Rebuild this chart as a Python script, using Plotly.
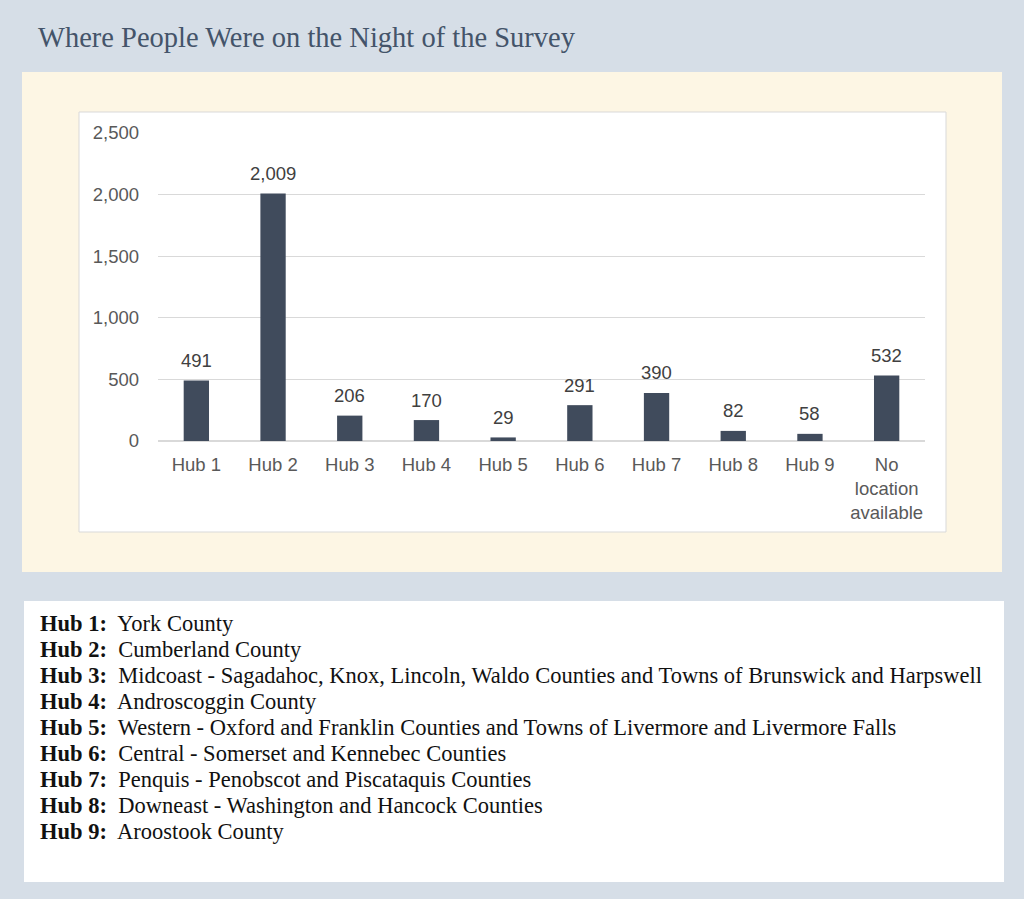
import plotly.graph_objects as go

categories = ["Hub 1", "Hub 2", "Hub 3", "Hub 4", "Hub 5", "Hub 6", "Hub 7", "Hub 8", "Hub 9", "No<br>location<br>available"]
values = [491, 2009, 206, 170, 29, 291, 390, 82, 58, 532]
y_ticks = [0, 500, 1000, 1500, 2000, 2500]
y_tick_labels = ["0", "500", "1,000", "1,500", "2,000", "2,500"]

hub_names = ["Hub 1:", "Hub 2:", "Hub 3:", "Hub 4:", "Hub 5:", "Hub 6:", "Hub 7:", "Hub 8:", "Hub 9:"]
hub_descriptions = [
    "York County",
    "Cumberland County",
    "Midcoast - Sagadahoc, Knox, Lincoln, Waldo Counties and Towns of Brunswick and Harpswell",
    "Androscoggin County",
    "Western - Oxford and Franklin Counties and Towns of Livermore and Livermore Falls",
    "Central - Somerset and Kennebec Counties",
    "Penquis - Penobscot and Piscataquis Counties",
    "Downeast - Washington and Hancock Counties",
    "Aroostook County",
]

W, H = 1024, 899
SANS = "Liberation Sans, Arial"
SERIF = "Liberation Serif, Times New Roman"

def px(x):
    return x / W

def py(y):
    return 1 - y / H

fig = go.Figure()
fig.add_trace(go.Bar(
    x=categories, y=values,
    marker=dict(color="#404B5C", line=dict(width=0)),
    width=0.33,
    hoverinfo="x+y",
))

shapes = [
    dict(type="rect", xref="paper", yref="paper", x0=px(22), x1=px(1002), y0=py(572), y1=py(72),
         fillcolor="#FDF6E4", line=dict(width=0), layer="below"),
    dict(type="rect", xref="paper", yref="paper", x0=px(79), x1=px(946), y0=py(532), y1=py(112),
         fillcolor="#FFFFFF", line=dict(width=1, color="#D9D9D9"), layer="below"),
    dict(type="rect", xref="paper", yref="paper", x0=px(24), x1=px(1004), y0=py(882), y1=py(601),
         fillcolor="#FFFFFF", line=dict(width=0), layer="below"),
]

annotations = [
    dict(text="Where People Were on the Night of the Survey", xref="paper", yref="paper",
         x=px(36), y=py(38), xanchor="left", yanchor="middle", showarrow=False,
         font=dict(family=SERIF, size=28.5, color="#44546A")),
]
for c, v in zip(categories, values):
    annotations.append(dict(
        text=f"{v:,}", x=c, y=v, xref="x", yref="y", yanchor="middle", yshift=20,
        showarrow=False, font=dict(family=SANS, size=18.5, color="#404040"),
    ))
for i, (n, d) in enumerate(zip(hub_names, hub_descriptions)):
    annotations.append(dict(
        text=f"<b>{n}</b>  {d}", xref="paper", yref="paper",
        x=px(38), y=py(623 + 26 * i), xanchor="left", yanchor="middle", showarrow=False,
        font=dict(family=SERIF, size=22.5, color="#111111"),
    ))

fig.update_layout(
    width=W, height=H, autosize=False,
    margin=dict(l=0, r=0, t=0, b=0, pad=0, autoexpand=False),
    paper_bgcolor="#D6DEE7",
    plot_bgcolor="rgba(0,0,0,0)",
    showlegend=False,
    shapes=shapes,
    annotations=annotations,
    xaxis=dict(domain=[px(158), px(925)], showgrid=False, showline=False, ticks="",
               ticklabelstandoff=10, automargin=False,
               tickfont=dict(family=SANS, size=18.5, color="#595959")),
    yaxis=dict(domain=[py(441), py(133)], range=[0, 2500], tickvals=y_ticks, ticktext=y_tick_labels,
               showgrid=True, gridcolor="#D9D9D9", gridwidth=1, zeroline=True, zerolinecolor="#D9D9D9",
               showline=False, ticks="", ticklabelstandoff=18, automargin=False,
               tickfont=dict(family=SANS, size=18.5, color="#595959")),
)

fig.write_html("out.html", config={"displayModeBar": False},
               post_script="document.body.style.margin='0';document.body.style.overflow='hidden';")
